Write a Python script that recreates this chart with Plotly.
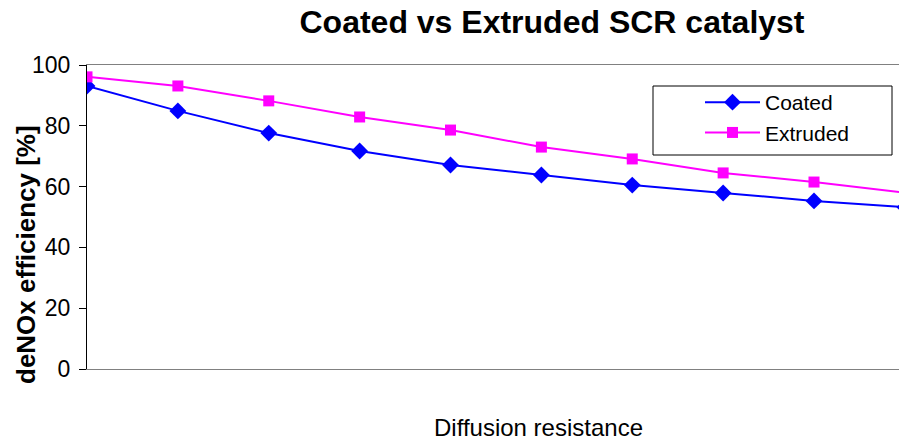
import plotly.graph_objects as go

categories = list(range(1, 11))
coated = [93.1, 84.9, 77.6, 71.7, 67.1, 63.8, 60.5, 57.9, 55.3, 53.2]
extruded = [96.1, 93.1, 88.2, 82.9, 78.6, 73.0, 69.1, 64.5, 61.5, 58.0]
y_ticks = [0, 20, 40, 60, 80, 100]

FONT = "Liberation Sans, Arial, sans-serif"

fig = go.Figure()
fig.add_trace(go.Scatter(
    x=categories, y=coated, name="Coated", mode="lines+markers",
    line=dict(color="#0000FF", width=2),
    marker=dict(symbol="diamond", size=13, color="#0000FF"),
    cliponaxis=True,
))
fig.add_trace(go.Scatter(
    x=categories, y=extruded, name="Extruded", mode="lines+markers",
    line=dict(color="#FF00FF", width=2),
    marker=dict(symbol="square", size=11, color="#FF00FF"),
    cliponaxis=True,
))

W, H = 899, 443
L, R, T, B = 87, 0, 65, 74
PW, PH = W - L - R, H - T - B
step = (814 - 87) / 8.0
xmax = 1 + (W - L) / step


def px(x):
    return (x - L) / PW


def py(y):
    return (H - B - y) / PH


fig.update_layout(
    width=W, height=H,
    margin=dict(l=L, r=R, t=T, b=B, pad=0),
    paper_bgcolor="white", plot_bgcolor="white",
    font=dict(family=FONT, color="black"),
    showlegend=True,
    legend=dict(
        x=px(700), y=py(82),
        xanchor="left", yanchor="top",
        borderwidth=0, bgcolor="rgba(0,0,0,0)",
        font=dict(size=21, family=FONT),
        itemwidth=55, tracegroupgap=0,
    ),
    title=dict(
        text="<b>Coated vs Extruded SCR catalyst</b>",
        x=552 / W, xref="container", xanchor="center",
        y=1 - 22 / H, yref="container", yanchor="middle",
        font=dict(size=32, family=FONT, color="black"),
    ),
    xaxis=dict(
        range=[1, xmax], showticklabels=False, ticks="",
        showgrid=False, zeroline=False,
        showline=True, linecolor="#808080", linewidth=1, mirror=True,
    ),
    yaxis=dict(
        range=[0, 100], tickvals=y_ticks, ticks="outside", ticklen=7,
        tickcolor="black", tickwidth=1,
        showgrid=False, zeroline=False,
        showline=True, linecolor="black", linewidth=1,
        tickfont=dict(size=23, family=FONT, color="black"),
        ticklabelstandoff=4,
    ),
    shapes=[
        dict(type="rect", xref="paper", yref="paper",
             x0=px(653), x1=px(892), y0=py(155), y1=py(86),
             line=dict(color="black", width=1), fillcolor="white", layer="above"),
    ],
    annotations=[
        dict(text="Diffusion resistance", xref="paper", yref="paper",
             x=px(538), y=py(443),
             xanchor="center", yanchor="bottom", showarrow=False,
             font=dict(size=24, family=FONT, color="black")),
        dict(text="<b>deNOx efficiency [%]</b>", xref="paper", yref="paper",
             x=px(26), y=py(255),
             xanchor="center", yanchor="middle", showarrow=False, textangle=-90,
             font=dict(size=26, family=FONT, color="black")),
    ],
)

fig.write_html("out.html")
